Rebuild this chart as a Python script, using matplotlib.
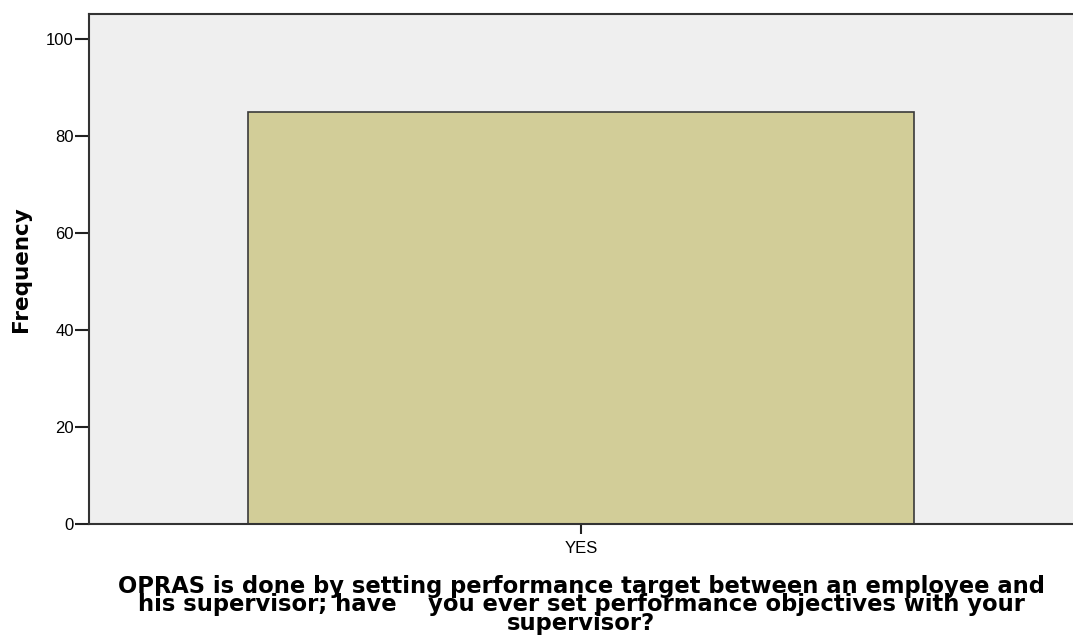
# bar chart of OPRAS frequency

import matplotlib
matplotlib.use('Agg')
import matplotlib.pyplot as plt

categories = ['YES']
frequency = [85]
y_ticks = [0, 20, 40, 60, 80, 100]

plt.rcParams['font.family'] = ['Liberation Sans', 'DejaVu Sans']

fig = plt.figure(figsize=(10.73, 6.44), dpi=100)
ax = fig.add_axes([89 / 1073, 1 - 524 / 644, 1 - 89 / 1073, 510 / 644])
ax.set_facecolor('#efefef')

ax.bar(categories, frequency, width=0.676, color='#d2cd98', edgecolor='#3a3a3a', linewidth=1.2)

ax.set_xlim(-0.5, 0.5)
ax.set_ylim(0, 105.2)
ax.set_yticks(y_ticks)
ax.tick_params(axis='y', length=10, width=1.5, color='#222222', labelsize=12, pad=1)
ax.tick_params(axis='x', length=7, width=1.5, color='#222222', labelsize=12, pad=5)

for side in ['left', 'top', 'bottom']:
    ax.spines[side].set_color('#333333')
    ax.spines[side].set_linewidth(1.5)
ax.spines['right'].set_visible(False)

ax.set_ylabel('Frequency', fontsize=15.5, fontweight='bold', family='DejaVu Sans', labelpad=11)
ax.set_xlabel('OPRAS is done by setting performance target between an employee and\n'
              'his supervisor; have    you ever set performance objectives with your\n'
              'supervisor?', fontsize=16.3, fontweight='bold', family='DejaVu Sans',
              linespacing=0.74, labelpad=14)

plt.savefig('out.png', dpi=100)
